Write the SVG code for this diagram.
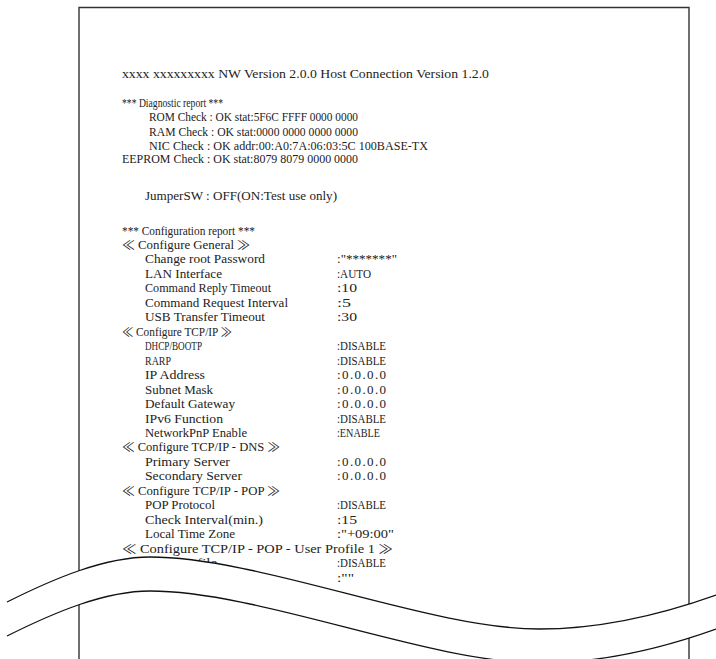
<svg xmlns="http://www.w3.org/2000/svg" width="716" height="659" viewBox="0 0 716 659">
<style>
text{font-family:"Liberation Serif","Noto Sans CJK JP",serif;font-size:13px;fill:#222}
.paper{fill:none;stroke:#333;stroke-width:1.4}
.wave{fill:none;stroke:#111;stroke-width:1.3}
</style>
<rect width="716" height="659" fill="#fff"/>
<g id="paper">
<path class="paper" d="M79,659 V7.5 H689 V659"/>
</g>
<g id="report" lengthAdjust="spacingAndGlyphs">
<text x="122" y="77.5" textLength="367" lengthAdjust="spacingAndGlyphs">xxxx xxxxxxxxx NW Version 2.0.0 Host Connection Version 1.2.0</text>
<text x="122" y="106.5" textLength="101" lengthAdjust="spacingAndGlyphs">*** Diagnostic report ***</text>
<text x="149" y="121" textLength="209" lengthAdjust="spacingAndGlyphs">ROM Check : OK stat:5F6C FFFF 0000 0000</text>
<text x="149" y="135.5" textLength="209" lengthAdjust="spacingAndGlyphs">RAM Check : OK stat:0000 0000 0000 0000</text>
<text x="149" y="149.5" textLength="279" lengthAdjust="spacingAndGlyphs">NIC Check : OK addr:00:A0:7A:06:03:5C 100BASE-TX</text>
<text x="122" y="163" textLength="236" lengthAdjust="spacingAndGlyphs">EEPROM Check : OK stat:8079 8079 0000 0000</text>
<text x="145" y="199.5" textLength="192" lengthAdjust="spacingAndGlyphs">JumperSW : OFF(ON:Test use only)</text>

<text x="122" y="234.5" textLength="133" lengthAdjust="spacingAndGlyphs">*** Configuration report ***</text>
<text x="122" y="249" textLength="128" lengthAdjust="spacingAndGlyphs">≪ Configure General ≫</text>
<text x="145" y="263.4" textLength="120" lengthAdjust="spacingAndGlyphs">Change root Password</text>
<text x="337" y="263.4" textLength="60" lengthAdjust="spacingAndGlyphs">:"*******"</text>
<text x="145" y="277.9" textLength="77" lengthAdjust="spacingAndGlyphs">LAN Interface</text>
<text x="337" y="277.9" textLength="34" lengthAdjust="spacingAndGlyphs">:AUTO</text>
<text x="145" y="292.3" textLength="126" lengthAdjust="spacingAndGlyphs">Command Reply Timeout</text>
<text x="337" y="292.3" textLength="20" lengthAdjust="spacingAndGlyphs">:10</text>
<text x="145" y="306.8" textLength="143" lengthAdjust="spacingAndGlyphs">Command Request Interval</text>
<text x="337" y="306.8" textLength="14" lengthAdjust="spacingAndGlyphs">:5</text>
<text x="145" y="321.3" textLength="120" lengthAdjust="spacingAndGlyphs">USB Transfer Timeout</text>
<text x="337" y="321.3" textLength="20" lengthAdjust="spacingAndGlyphs">:30</text>
<text x="122" y="335.7" textLength="110" lengthAdjust="spacingAndGlyphs">≪ Configure TCP/IP ≫</text>
<text x="145" y="350.2" textLength="57" lengthAdjust="spacingAndGlyphs">DHCP/BOOTP</text>
<text x="337" y="350.2" textLength="49" lengthAdjust="spacingAndGlyphs">:DISABLE</text>
<text x="145" y="364.6" textLength="26" lengthAdjust="spacingAndGlyphs">RARP</text>
<text x="337" y="364.6" textLength="49" lengthAdjust="spacingAndGlyphs">:DISABLE</text>
<text x="145" y="379.1" textLength="60" lengthAdjust="spacingAndGlyphs">IP Address</text>
<text x="337" y="379.1" textLength="49" lengthAdjust="spacing">:0.0.0.0</text>
<text x="145" y="393.6" textLength="68" lengthAdjust="spacingAndGlyphs">Subnet Mask</text>
<text x="337" y="393.6" textLength="49" lengthAdjust="spacing">:0.0.0.0</text>
<text x="145" y="408" textLength="90" lengthAdjust="spacingAndGlyphs">Default Gateway</text>
<text x="337" y="408" textLength="49" lengthAdjust="spacing">:0.0.0.0</text>
<text x="145" y="422.5" textLength="78" lengthAdjust="spacingAndGlyphs">IPv6 Function</text>
<text x="337" y="422.5" textLength="49" lengthAdjust="spacingAndGlyphs">:DISABLE</text>
<text x="145" y="436.9" textLength="102" lengthAdjust="spacingAndGlyphs">NetworkPnP Enable</text>
<text x="337" y="436.9" textLength="43" lengthAdjust="spacingAndGlyphs">:ENABLE</text>
<text x="122" y="451.4" textLength="158" lengthAdjust="spacingAndGlyphs">≪ Configure TCP/IP - DNS ≫</text>
<text x="145" y="465.9" textLength="85" lengthAdjust="spacingAndGlyphs">Primary Server</text>
<text x="337" y="465.9" textLength="49" lengthAdjust="spacing">:0.0.0.0</text>
<text x="145" y="480.3" textLength="97" lengthAdjust="spacingAndGlyphs">Secondary Server</text>
<text x="337" y="480.3" textLength="49" lengthAdjust="spacing">:0.0.0.0</text>
<text x="122" y="494.8" textLength="158" lengthAdjust="spacingAndGlyphs">≪ Configure TCP/IP - POP ≫</text>
<text x="145" y="509.2" textLength="70" lengthAdjust="spacingAndGlyphs">POP Protocol</text>
<text x="337" y="509.2" textLength="49" lengthAdjust="spacingAndGlyphs">:DISABLE</text>
<text x="145" y="523.7" textLength="118" lengthAdjust="spacingAndGlyphs">Check Interval(min.)</text>
<text x="337" y="523.7" textLength="20" lengthAdjust="spacingAndGlyphs">:15</text>
<text x="145" y="538.2" textLength="90" lengthAdjust="spacingAndGlyphs">Local Time Zone</text>
<text x="337" y="538.2" textLength="57" lengthAdjust="spacingAndGlyphs">:"+09:00"</text>
<text x="122" y="552.6" textLength="271" lengthAdjust="spacingAndGlyphs">≪ Configure TCP/IP - POP - User Profile 1 ≫</text>
<text x="145" y="567.1" textLength="72" lengthAdjust="spacingAndGlyphs">User Profile</text>
<text x="337" y="567.1" textLength="49" lengthAdjust="spacingAndGlyphs">:DISABLE</text>
<text x="337" y="581.5" textLength="17" lengthAdjust="spacingAndGlyphs">:""</text>
</g>
<g id="break">
<path fill="#fff" d="M7,602 C55,578 105,557 150,557 C260,557 430,629 539,629 C600,629 660,615 716,595 L716,629 C660,649 600,663 539,663 C430,663 260,591 150,591 C105,591 55,612 7,636 Z"/>
<path class="wave" d="M7,602 C55,578 105,557 150,557 C260,557 430,629 539,629 C600,629 660,615 716,595"/>
<path class="wave" d="M7,636 C55,612 105,591 150,591 C260,591 430,663 539,663 C600,663 660,649 716,629"/>
</g>
</svg>
